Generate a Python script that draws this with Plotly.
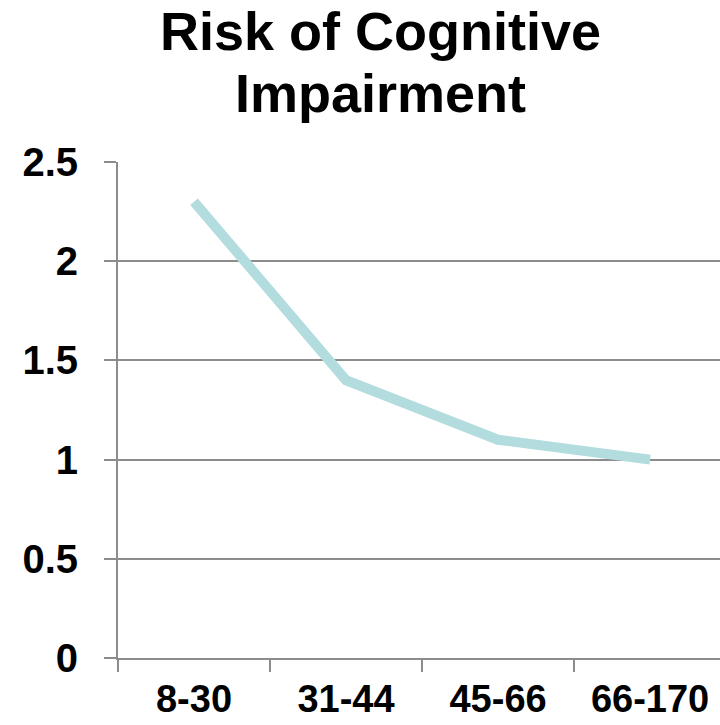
import plotly.graph_objects as go

categories = ["8-30", "31-44", "45-66", "66-170"]
risk = [2.3, 1.4, 1.1, 1.0]
y_ticks = [0, 0.5, 1, 1.5, 2, 2.5]
y_tick_labels = ["0", "0.5", "1", "1.5", "2", "2.5"]
title_lines = ["Risk of Cognitive", "Impairment"]

FONT = "Liberation Sans, Arial, sans-serif"
GRID = "#8c8c8c"
H = 725

fig = go.Figure()
fig.add_trace(go.Scatter(
    x=categories, y=risk, mode="lines",
    line=dict(color="#b3dcdf", width=10),
    showlegend=False, hoverinfo="skip",
))

fig.update_layout(
    width=720, height=H,
    margin=dict(l=118, r=0, t=162, b=67),
    paper_bgcolor="white", plot_bgcolor="white",
    font=dict(family=FONT, color="black"),
)

for i, (line, ypx) in enumerate(zip(title_lines, [31, 93])):
    fig.add_annotation(
        text=f"<b>{line}</b>", xref="paper", yref="paper",
        x=(380 - 118) / (720 - 118), xanchor="center",
        y=(H - 67 - ypx) / (H - 162 - 67), yanchor="middle",
        showarrow=False, font=dict(family=FONT, size=54, color="black"),
    )

fig.update_xaxes(
    type="category", range=[-0.5, 3.46],
    tickvals=categories, ticktext=[f"<b>{c}</b>" for c in categories],
    showgrid=False, showline=True, linecolor=GRID, linewidth=2,
    ticks="outside", ticklen=12, tickcolor=GRID, tickwidth=2,
    tickson="boundaries",
    tickfont=dict(family=FONT, size=38, color="black"),
    ticklabelstandoff=6, automargin=False,
    zeroline=False,
)
fig.update_yaxes(
    range=[0, 2.5], tickvals=y_ticks, ticktext=[f"<b>{t}</b>" for t in y_tick_labels],
    showgrid=True, gridcolor=GRID, gridwidth=2,
    showline=True, linecolor=GRID, linewidth=2,
    ticks="outside", ticklen=12, tickcolor=GRID, tickwidth=2,
    tickfont=dict(family=FONT, size=40, color="black"),
    ticklabelstandoff=18, automargin=False,
    zeroline=False,
)

fig.write_html("out.html")
